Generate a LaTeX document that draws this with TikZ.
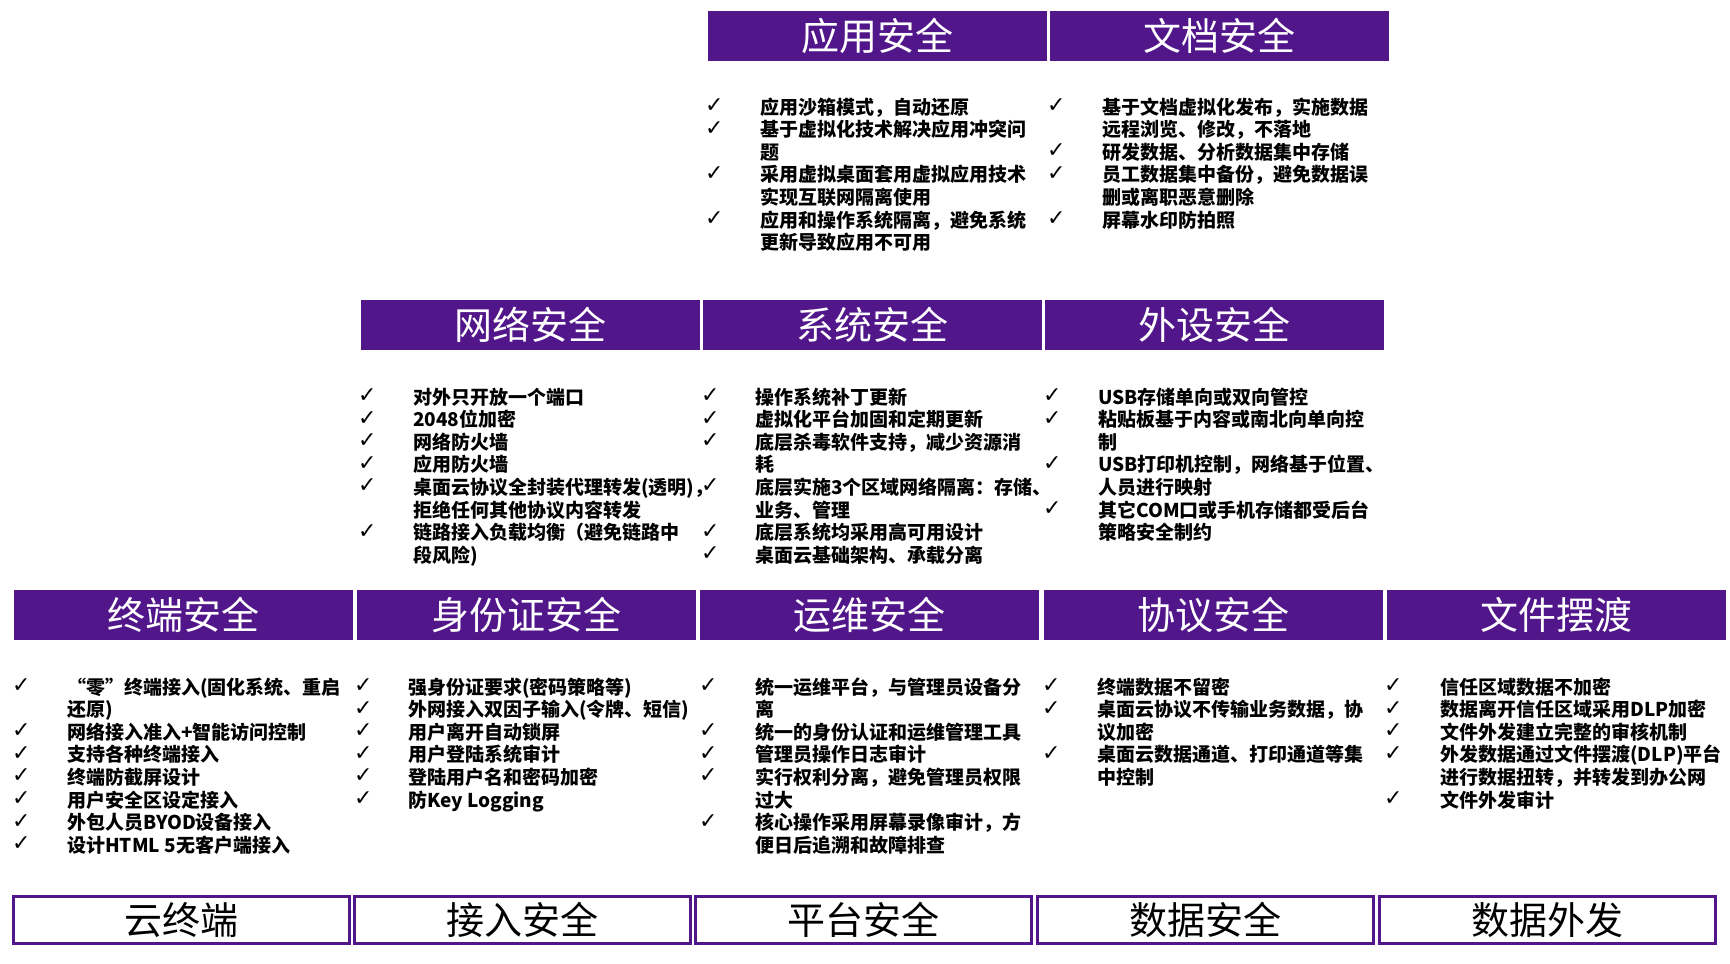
\documentclass[tikz,border=0pt]{standalone}
\usepackage{fontspec}
\setmainfont{Noto Sans CJK SC}
\newfontfamily\chkfont{DejaVu Sans}
\definecolor{hdr}{RGB}{82,22,139}
\newcommand\blist[5]{%
  \foreach \ck/\txt [count=\i] in {#5} {%
    \node[itemtext] (#1t\i) at (#3,{#4+(\i-1)*22.6}) {\txt};
    \ifnum\ck=1\relax \node[chk] (#1c\i) at (#2,{#4+(\i-1)*22.6-1.5}) {✓};\fi
  }}
\begin{document}
\begin{tikzpicture}[x=1pt,y=-1pt,
  hdrbox/.style={fill=hdr, draw=none, minimum width=339pt, minimum height=50pt, inner sep=0pt, anchor=north west, text=white, font=\fontsize{38}{40}\selectfont},
  cat/.style={draw=hdr, line width=2.5pt, fill=white, minimum width=336pt, minimum height=47pt, inner sep=0pt, anchor=north west, font=\fontsize{38}{40}\selectfont},
  itemtext/.style={anchor=base west, inner sep=0pt, font=\bfseries\fontsize{19}{22}\selectfont},
  chk/.style={anchor=base west, inner sep=0pt, font=\chkfont\fontsize{22}{24}\selectfont}]
\useasboundingbox[fill=white] (0,0) rectangle (1730,964);

% top row headers
\node[hdrbox] (app) at (708,11) {应用安全};
\node[hdrbox] (doc) at (1050,11) {文档安全};
% middle row headers
\node[hdrbox] (net) at (361,300) {网络安全};
\node[hdrbox] (sys) at (703,300) {系统安全};
\node[hdrbox] (per) at (1045,300) {外设安全};
% bottom row headers
\node[hdrbox] (ter) at (14,590) {终端安全};
\node[hdrbox] (idn) at (357,590) {身份证安全};
\node[hdrbox] (ops) at (700,590) {运维安全};
\node[hdrbox] (pro) at (1044,590) {协议安全};
\node[hdrbox] (fil) at (1387,590) {文件摆渡};
% category boxes
\node[cat] (c1) at (12.25,895.25) {云终端};
\node[cat] (c2) at (353.25,895.25) {接入安全};
\node[cat] (c3) at (694.25,895.25) {平台安全};
\node[cat] (c4) at (1036.25,895.25) {数据安全};
\node[cat] (c5) at (1378.25,895.25) {数据外发};

% lists
\blist{app}{705}{760}{114}{1/应用沙箱模式，自动还原,
1/基于虚拟化技术解决应用冲突问,
0/题,
1/采用虚拟桌面套用虚拟应用技术,
0/实现互联网隔离使用,
1/应用和操作系统隔离，避免系统,
0/更新导致应用不可用}

\blist{doc}{1047}{1102}{114}{1/基于文档虚拟化发布，实施数据,
0/远程浏览、修改，不落地,
1/研发数据、分析数据集中存储,
1/员工数据集中备份，避免数据误,
0/删或离职恶意删除,
1/屏幕水印防拍照}

\blist{net}{358}{413}{404}{1/对外只开放一个端口,
1/2048位加密,
1/网络防火墙,
1/应用防火墙,
1/桌面云协议全封装代理转发(透明)，,
0/拒绝任何其他协议内容转发,
1/链路接入负载均衡（避免链路中,
0/段风险)}

\blist{sys}{701}{755}{404}{1/操作系统补丁更新,
1/虚拟化平台加固和定期更新,
1/底层杀毒软件支持，减少资源消,
0/耗,
1/底层实施3个区域网络隔离：存储、,
0/业务、管理,
1/底层系统均采用高可用设计,
1/桌面云基础架构、承载分离}

\blist{per}{1043}{1098}{404}{1/USB存储单向或双向管控,
1/粘贴板基于内容或南北向单向控,
0/制,
1/USB打印机控制，网络基于位置、,
0/人员进行映射,
1/其它COM口或手机存储都受后台,
0/策略安全制约}

\blist{ter}{12}{67}{694}{1/“零”终端接入(固化系统、重启,
0/还原),
1/网络接入准入+智能访问控制,
1/支持各种终端接入,
1/终端防截屏设计,
1/用户安全区设定接入,
1/外包人员BYOD设备接入,
1/设计HTML 5无客户端接入}

\blist{idn}{354}{408}{694}{1/强身份证要求(密码策略等),
1/外网接入双因子输入(令牌、短信),
1/用户离开自动锁屏,
1/用户登陆系统审计,
1/登陆用户名和密码加密,
1/防Key Logging}

\blist{ops}{699}{755}{694}{1/统一运维平台，与管理员设备分,
0/离,
1/统一的身份认证和运维管理工具,
1/管理员操作日志审计,
1/实行权利分离，避免管理员权限,
0/过大,
1/核心操作采用屏幕录像审计，方,
0/便日后追溯和故障排查}

\blist{pro}{1042}{1097}{694}{1/终端数据不留密,
1/桌面云协议不传输业务数据，协,
0/议加密,
1/桌面云数据通道、打印通道等集,
0/中控制}

\blist{fil}{1384}{1440}{694}{1/信任区域数据不加密,
1/数据离开信任区域采用DLP加密,
1/文件外发建立完整的审核机制,
1/外发数据通过文件摆渡(DLP)平台,
0/进行数据扭转，并转发到办公网,
1/文件外发审计}
\end{tikzpicture}
\end{document}
